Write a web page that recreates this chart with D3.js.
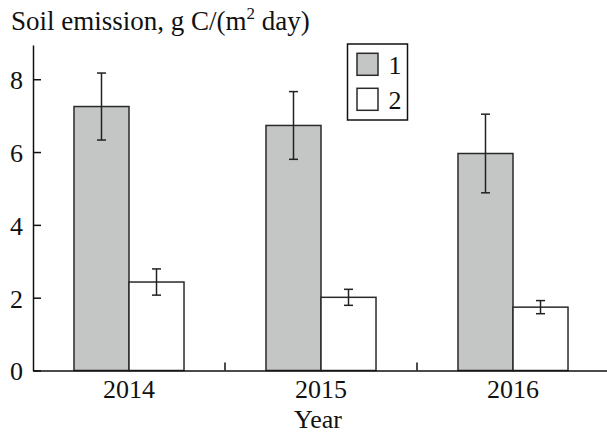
<!DOCTYPE html>
<html>
<head>
<meta charset="utf-8">
<script src="https://cdn.jsdelivr.net/npm/d3@7"></script>
<style>
  body { margin: 0; background: #fff; }
  text { font-family: 'Liberation Serif', 'Times New Roman', serif; fill: #111; }
</style>
</head>
<body>
<script>
const width = 607;
const height = 434;

const years = ['2014', '2015', '2016'];
const series = ['1', '2'];
const values1 = [7.25, 6.73, 5.96];
const errors1 = [0.92, 0.93, 1.08];
const values2 = [2.43, 2.01, 1.74];
const errors2 = [0.36, 0.22, 0.18];
const yTicks = [0, 2, 4, 6, 8];
const colors = ['#c4c6c5', '#ffffff'];

const margin = { left: 33, right: -2, bottom: 63.5 };
const serif = "'Liberation Serif', 'Times New Roman', serif";

function main() {
  const svg = d3.select('body').append('svg').attr('width', width).attr('height', height);

  const x = d3.scaleBand().domain(years).range([margin.left, width - margin.right]).padding(0);
  const xInner = d3.scaleBand().domain(series).range([0, x.bandwidth()]).paddingInner(0).paddingOuter(0.745);
  const y = d3.scaleLinear().domain([0, 8.94]).range([height - margin.bottom, 45]);

  const rows = years.map((year, i) => [
    { year, key: '1', value: values1[i], err: errors1[i] },
    { year, key: '2', value: values2[i], err: errors2[i] }
  ]).flat();

  // bars
  svg.append('g')
    .selectAll('rect')
    .data(rows)
    .enter()
    .append('rect')
    .attr('x', d => x(d.year) + xInner(d.key))
    .attr('y', d => y(d.value))
    .attr('width', xInner.bandwidth())
    .attr('height', d => y(0) - y(d.value))
    .attr('fill', d => colors[series.indexOf(d.key)])
    .attr('stroke', '#2a2a2a')
    .attr('stroke-width', 1.5);

  // error bars
  const capHalf = 4.5;
  const errs = svg.append('g').attr('stroke', '#222').attr('stroke-width', 1.5);
  const cx = d => x(d.year) + xInner(d.key) + xInner.bandwidth() / 2;
  errs.selectAll('line.v')
    .data(rows).enter().append('line').attr('class', 'v')
    .attr('x1', cx).attr('x2', cx)
    .attr('y1', d => y(d.value + d.err)).attr('y2', d => y(d.value - d.err));
  errs.selectAll('line.top')
    .data(rows).enter().append('line').attr('class', 'top')
    .attr('x1', d => cx(d) - capHalf).attr('x2', d => cx(d) + capHalf)
    .attr('y1', d => y(d.value + d.err)).attr('y2', d => y(d.value + d.err));
  errs.selectAll('line.bot')
    .data(rows).enter().append('line').attr('class', 'bot')
    .attr('x1', d => cx(d) - capHalf).attr('x2', d => cx(d) + capHalf)
    .attr('y1', d => y(d.value - d.err)).attr('y2', d => y(d.value - d.err));

  // y axis, ticks inward
  const yAxis = svg.append('g')
    .attr('transform', `translate(${margin.left},0)`)
    .attr('font-family', serif)
    .call(d3.axisLeft(y).tickValues(yTicks).tickSizeInner(-8).tickSizeOuter(0).tickPadding(10));
  yAxis.select('.domain').attr('stroke', '#111').attr('stroke-width', 1.5);
  yAxis.selectAll('.tick line').attr('stroke', '#111').attr('stroke-width', 1.5);
  yAxis.selectAll('.tick text')
    .style('font-family', serif)
    .style('font-size', '26px')
    .attr('fill', '#111')
    .attr('dy', '0.36em');

  // x axis, labels at band centres, ticks at band boundaries
  const xAxis = svg.append('g')
    .attr('transform', `translate(0,${y(0)})`)
    .attr('font-family', serif)
    .call(d3.axisBottom(x).tickSize(0).tickPadding(9));
  xAxis.select('.domain').attr('stroke', '#111').attr('stroke-width', 1.5);
  xAxis.selectAll('.tick text')
    .style('font-family', serif)
    .style('font-size', '26px')
    .attr('fill', '#111');
  xAxis.selectAll('line.sep')
    .data(years.slice(1))
    .enter()
    .append('line')
    .attr('class', 'sep')
    .attr('x1', d => x(d)).attr('x2', d => x(d))
    .attr('y1', 0).attr('y2', -8)
    .attr('stroke', '#111').attr('stroke-width', 1.5);

  // axis titles
  svg.append('text')
    .attr('x', 318)
    .attr('y', 428)
    .attr('text-anchor', 'middle')
    .style('font-size', '26px')
    .text('Year');

  const title = svg.append('text')
    .attr('x', 11)
    .attr('y', 30)
    .style('font-size', '27px');
  title.append('tspan').text('Soil emission, g C/(m');
  title.append('tspan').attr('dy', -11).style('font-size', '17px').text('2');
  title.append('tspan').attr('dy', 11).text(' day)');

  createLegend(svg);
}

function createLegend(svg) {
  const legend = svg.append('g').attr('transform', 'translate(347.5,44)');
  legend.append('rect')
    .attr('width', 60).attr('height', 76)
    .attr('fill', '#fff').attr('stroke', '#111').attr('stroke-width', 1.5);

  const rowY = d3.scaleBand().domain(series).range([9.3, 9.3 + 70]);
  legend.selectAll('rect.swatch')
    .data(series).enter().append('rect').attr('class', 'swatch')
    .attr('x', 9.5).attr('y', d => rowY(d))
    .attr('width', 21).attr('height', 22)
    .attr('fill', (d, i) => colors[i])
    .attr('stroke', '#2a2a2a').attr('stroke-width', 1.5);
  legend.selectAll('text')
    .data(series).enter().append('text')
    .attr('x', 41).attr('y', d => rowY(d) + 20.5)
    .style('font-size', '26px')
    .text(d => d);
}

main();
</script>
</body>
</html>
